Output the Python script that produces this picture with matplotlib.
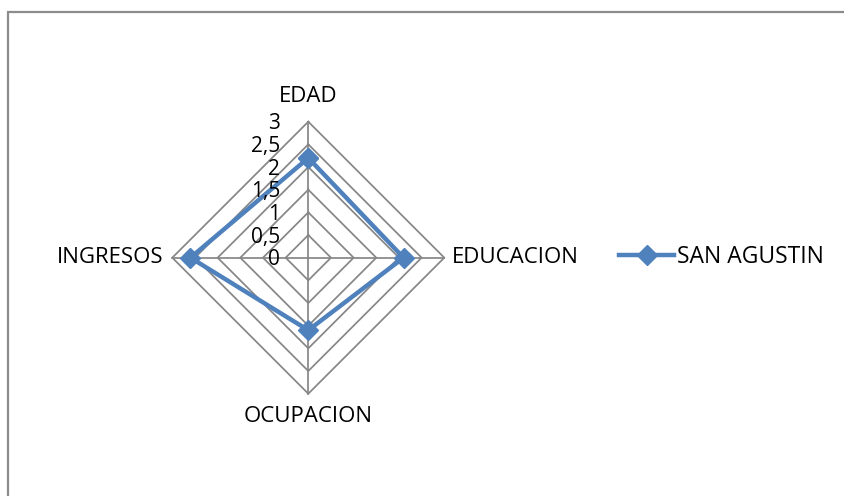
import numpy as np
import matplotlib.pyplot as plt
from matplotlib.patches import Rectangle

categorias = ['EDAD', 'EDUCACION', 'OCUPACION', 'INGRESOS']
valores = [2.2, 2.1, 1.6, 2.6]
niveles = [0, 0.5, 1, 1.5, 2, 2.5, 3]
etiquetas_niveles = ['0', '0,5', '1', '1,5', '2', '2,5', '3']
serie = 'SAN AGUSTIN'

plt.rcParams['font.family'] = ['Open Sans', 'DejaVu Sans']

azul = '#4F81BD'
gris = '#868686'

# angulos: arriba, derecha, abajo, izquierda (sentido horario)
ang = np.pi / 2 - np.arange(len(categorias)) * np.pi / 2
dx = np.round(np.cos(ang), 6)
dy = np.round(np.sin(ang), 6)

fig = plt.figure(figsize=(8.44, 4.96), dpi=100)
W, H = 844, 496
cx, cy = 308.3, 257.7   # centro en pixeles
unit = 136 / 3          # pixeles por unidad
L = 3.3
ax = fig.add_axes([(cx - L * unit) / W, (H - cy - L * unit) / H,
                   2 * L * unit / W, 2 * L * unit / H])
ax.set_xlim(-L, L)
ax.set_ylim(-L, L)
ax.axis('off')

# rejilla
for r in niveles[1:]:
    ax.plot(np.append(r * dx, r * dx[0]), np.append(r * dy, r * dy[0]),
            color=gris, lw=1.25, zorder=1)
for i in range(len(categorias)):
    ax.plot([0, 3 * dx[i]], [0, 3 * dy[i]], color=gris, lw=1.25, zorder=1)

# serie
v = np.array(valores)
ax.plot(np.append(v * dx, v[0] * dx[0]), np.append(v * dy, v[0] * dy[0]),
        color=azul, lw=3.2, marker='D', ms=10.5, zorder=3, label=serie)

# etiquetas de niveles
for r, t in zip(niveles, etiquetas_niveles):
    ax.text(-0.62, r - 0.05, t, ha='right', va='center', fontsize=15,
            color='black', zorder=4)

# etiquetas de categorias
fs = 16
ax.text(0, 3.545, categorias[0], ha='center', va='center', fontsize=fs)
ax.text(3.17, 0, categorias[1], ha='left', va='center', fontsize=fs)
ax.text(0, -3.51, categorias[2], ha='center', va='center', fontsize=fs)
ax.text(-3.205, 0, categorias[3], ha='right', va='center', fontsize=fs)

fig.legend(loc='center left', bbox_to_anchor=(619 / W, 1 - 257 / H),
           frameon=False, fontsize=16.5, handlelength=2.4, handletextpad=0.15,
           borderpad=0, borderaxespad=0)

fig.patches.append(Rectangle((8 / W, -0.1), 1.2, 1 - 12 / H + 0.1,
                             transform=fig.transFigure, fill=False,
                             ec='#8c8c8c', lw=1.6))

fig.savefig('out.png', dpi=100)
